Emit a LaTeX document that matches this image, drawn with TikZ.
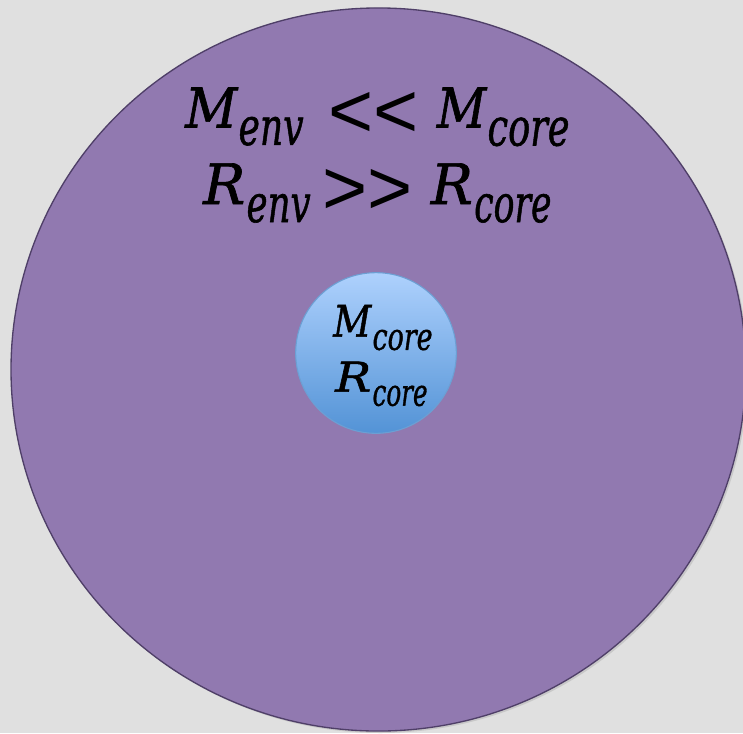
\documentclass[tikz,border=0pt]{standalone}
\usepackage{fontspec}
\setmainfont{DejaVu Serif}[ItalicFeatures={FakeBold=1.2}]
\newfontfamily\relfont[Ligatures=NoCommon]{Liberation Sans}
\usetikzlibrary{shapes.geometric}
\definecolor{bg}{HTML}{E0E0E0}
\definecolor{envfill}{HTML}{9179B0}
\definecolor{envline}{HTML}{4F3F68}
\definecolor{coretop}{HTML}{AED1FD}
\definecolor{corebot}{HTML}{5393D6}
\definecolor{coreline}{HTML}{6C9FD3}
% piece: width, height, text
\newcommand\pc[3]{\resizebox{#1pt}{#2pt}{\itshape #3}}
% lowered subscript piece: drop, width, height, text
\newcommand\sbp[4]{\raisebox{-#1pt}{\resizebox{#2pt}{#3pt}{\itshape #4}}}
\newcommand\rel[1]{\raisebox{-7.5pt}{\relfont\fontsize{58}{58}\selectfont #1\kern0pt #1}}
\tikzset{
  envshape/.style={ellipse, draw=envline, fill=envfill, line width=1pt, inner sep=0pt,
    minimum width=551.1pt, minimum height=542.3pt},
  coreshape/.style={circle, draw=coreline, top color=coretop, bottom color=corebot,
    line width=0.8pt, inner sep=0pt, minimum size=120.5pt},
  eqtext/.style={anchor=base west, inner sep=0pt, font=\fontsize{40}{40}\selectfont}
}
\begin{document}
\begin{tikzpicture}[x=0.75pt,y=-0.75pt]
\fill[bg] (0,0) rectangle (743,733);
\useasboundingbox (0,0) rectangle (743,733);
\fill[black!30, opacity=0.5] (380.4,371.5) ellipse [x radius=367.4, y radius=361.5];
\node[envshape] (env) at (378.4,369.5) {};
\node[coreshape] (core) at (376,353) {};
\node[eqtext] (l1) at (185,127.5) {\pc{39}{30}{M}\hspace{1pt}\sbp{13}{48.75}{21}{env}\hspace{18.75pt}\rel{<}\hspace{13.5pt}\pc{37}{30}{M}\hspace{1pt}\sbp{13.5}{61.5}{21}{core}};
\node[eqtext] (l2) at (203,204) {\pc{31.5}{30.5}{R}\hspace{1pt}\sbp{13.5}{48}{21}{env}\hspace{9pt}\rel{>}\hspace{13.5pt}\pc{31.5}{30.5}{R}\hspace{1pt}\sbp{13.5}{58}{21}{core}};
\node[eqtext] (c1) at (333,336.7) {\pc{28.5}{23.8}{M}\hspace{1pt}\sbp{9.8}{45}{15}{core}};
\node[eqtext] (c2) at (335,391.7) {\pc{27}{22.5}{R}\hspace{1pt}\sbp{10.5}{41.25}{15}{core}};
\end{tikzpicture}
\end{document}
